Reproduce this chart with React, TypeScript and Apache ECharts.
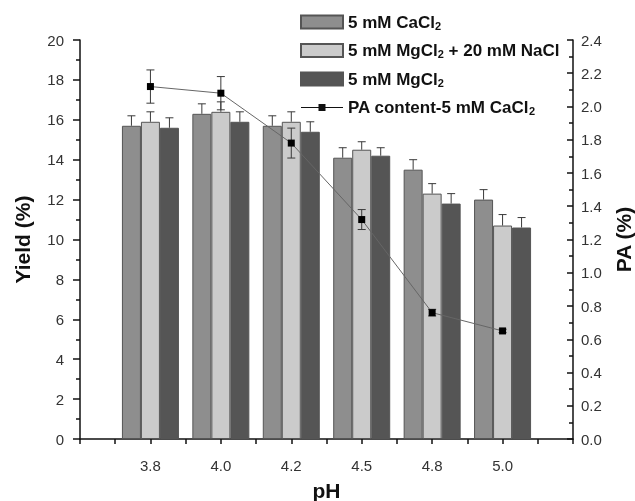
import React, { useEffect, useRef } from "react";
import * as echarts from "echarts";

const phLabels = ["3.8", "4.0", "4.2", "4.5", "4.8", "5.0"];
const cacl2 = [15.7, 16.3, 15.7, 14.1, 13.5, 12.0];
const cacl2Err = [0.5, 0.5, 0.5, 0.5, 0.5, 0.5];
const mgNacl = [15.9, 16.4, 15.9, 14.5, 12.3, 10.7];
const mgNaclErr = [0.5, 0.5, 0.5, 0.4, 0.5, 0.55];
const mgcl2 = [15.6, 15.9, 15.4, 14.2, 11.8, 10.6];
const mgcl2Err = [0.5, 0.5, 0.5, 0.4, 0.5, 0.5];
const paContent = [2.12, 2.08, 1.78, 1.32, 0.76, 0.65];
const paErr = [0.1, 0.1, 0.09, 0.06, 0.02, 0.01];

const FONT = "'Liberation Sans', Arial, sans-serif";
const BAR_W = 19;

function errorBarSeries(values: number[], errs: number[], offset: number, yAxisIndex: number, both: boolean) {
  return {
    type: "custom",
    yAxisIndex,
    z: 5,
    silent: true,
    data: values.map((v, i) => [i + 1, v, errs[i]]),
    renderItem: (params: any, api: any) => {
      const x = api.value(0);
      const y = api.value(1);
      const e = api.value(2);
      const top = api.coord([x, y + e]);
      const mid = api.coord([x, y]);
      const bot = api.coord([x, y - e]);
      const cx = top[0] + offset;
      const style = { stroke: "#3a3a3a", lineWidth: 1 };
      const children: any[] = [
        { type: "line", shape: { x1: cx, y1: both ? bot[1] : mid[1], x2: cx, y2: top[1] }, style },
        { type: "line", shape: { x1: cx - 4, y1: top[1], x2: cx + 4, y2: top[1] }, style },
      ];
      if (both) {
        children.push({ type: "line", shape: { x1: cx - 4, y1: bot[1], x2: cx + 4, y2: bot[1] }, style });
      }
      return { type: "group", children };
    },
  };
}

export default function App() {
  const ref = useRef<HTMLDivElement>(null);
  useEffect(() => {
    if (!ref.current) return;
    const chart = echarts.init(ref.current, undefined, { renderer: "svg" });
    const rich = {
      b: { fontFamily: FONT, fontSize: 17, fontWeight: "bold", color: "#111", lineHeight: 20 },
      s: { fontFamily: FONT, fontSize: 11, fontWeight: "bold", color: "#111", lineHeight: 12, padding: [7, 0, 0, 0] },
    };
    const legendNames: Record<string, string> = {
      "5 mM CaCl2": "{b|5 mM CaCl}{s|2}",
      "5 mM MgCl2 + 20 mM NaCl": "{b|5 mM MgCl}{s|2}{b| + 20 mM NaCl}",
      "5 mM MgCl2": "{b|5 mM MgCl}{s|2}",
      "PA content-5 mM CaCl2": "{b|PA content-5 mM CaCl}{s|2}",
    };
    const barItem = (color: string) => ({ color, borderColor: "#555", borderWidth: 1 });
    const titleStyle = { fontFamily: FONT, fontSize: 21, fontWeight: "bold", color: "#111" };
    chart.setOption({
      animation: false,
      textStyle: { fontFamily: FONT },
      grid: { left: 80, right: 62, top: 40, bottom: 62, containLabel: false, outerBoundsMode: "none" },
      legend: {
        orient: "vertical",
        left: 300,
        top: 13,
        padding: 0,
        itemWidth: 42,
        itemHeight: 13,
        itemGap: 10.5,
        data: [
          { name: "5 mM CaCl2", icon: "rect" },
          { name: "5 mM MgCl2 + 20 mM NaCl", icon: "rect" },
          { name: "5 mM MgCl2", icon: "rect" },
          {
            name: "PA content-5 mM CaCl2",
            icon: "path://M0,6 L42,6 L42,7 L0,7 Z M17.5,3 L24.5,3 L24.5,10 L17.5,10 Z",
            itemStyle: { color: "#111" },
          },
        ],
        formatter: (n: string) => legendNames[n] || n,
        textStyle: { rich },
      },
      xAxis: {
        type: "value",
        min: 0,
        max: 7,
        interval: 1,
        name: "pH",
        nameLocation: "middle",
        nameGap: 41,
        nameTextStyle: titleStyle,
        axisLine: { lineStyle: { color: "#111", width: 1.5 } },
        axisTick: { length: 5, lineStyle: { color: "#111", width: 1.5 } },
        minorTick: { show: true, splitNumber: 2, length: 5, lineStyle: { color: "#111", width: 1.5 } },
        splitLine: { show: false },
        axisLabel: {
          margin: 19,
          fontSize: 15,
          color: "#333",
          formatter: (v: number) => phLabels[v - 1] ?? "",
        },
      },
      yAxis: [
        {
          type: "value",
          min: 0,
          max: 20,
          interval: 2,
          position: "left",
          name: "Yield (%)",
          nameLocation: "middle",
          nameRotate: 90,
          nameGap: 47,
          nameTextStyle: titleStyle,
          axisLine: { show: true, lineStyle: { color: "#111", width: 1.5 } },
          axisTick: { show: true, length: 7, lineStyle: { color: "#111", width: 1.5 } },
          minorTick: { show: true, splitNumber: 2, length: 4, lineStyle: { color: "#111", width: 1.5 } },
          splitLine: { show: false },
          axisLabel: { margin: 16, fontSize: 15, color: "#333" },
        },
        {
          type: "value",
          min: 0,
          max: 2.4,
          interval: 0.2,
          position: "right",
          name: "PA (%)",
          nameLocation: "middle",
          nameRotate: 90,
          nameGap: 37,
          nameTextStyle: titleStyle,
          axisLine: { show: true, lineStyle: { color: "#111", width: 1.5 } },
          axisTick: { show: true, inside: true, length: 6, lineStyle: { color: "#111", width: 1.5 } },
          minorTick: { show: true, splitNumber: 2, length: 4, lineStyle: { color: "#111", width: 1.5 } },
          splitLine: { show: false },
          axisLabel: { margin: 8, fontSize: 15, color: "#333", formatter: (v: number) => v.toFixed(1) },
        },
      ],
      series: [
        {
          name: "5 mM CaCl2",
          type: "bar",
          barWidth: BAR_W,
          barGap: "0%",
          itemStyle: barItem("#8e8e8e"),
          data: cacl2.map((v, i) => [i + 1, v]),
        },
        {
          name: "5 mM MgCl2 + 20 mM NaCl",
          type: "bar",
          barWidth: BAR_W,
          barGap: "0%",
          itemStyle: barItem("#cbcbcb"),
          data: mgNacl.map((v, i) => [i + 1, v]),
        },
        {
          name: "5 mM MgCl2",
          type: "bar",
          barWidth: BAR_W,
          barGap: "0%",
          itemStyle: barItem("#555555"),
          data: mgcl2.map((v, i) => [i + 1, v]),
        },
        errorBarSeries(cacl2, cacl2Err, -BAR_W, 0, false),
        errorBarSeries(mgNacl, mgNaclErr, 0, 0, false),
        errorBarSeries(mgcl2, mgcl2Err, BAR_W, 0, false),
        {
          name: "PA content-5 mM CaCl2",
          type: "line",
          yAxisIndex: 1,
          z: 6,
          symbol: "rect",
          symbolSize: 7,
          itemStyle: { color: "#000" },
          lineStyle: { color: "#666", width: 1 },
          data: paContent.map((v, i) => [i + 1, v]),
        },
        errorBarSeries(paContent, paErr, 0, 1, true),
      ],
    });
    return () => chart.dispose();
  }, []);
  return <div ref={ref} style={{ position: "fixed", left: 0, top: 0, width: 635, height: 501 }} />;
}
